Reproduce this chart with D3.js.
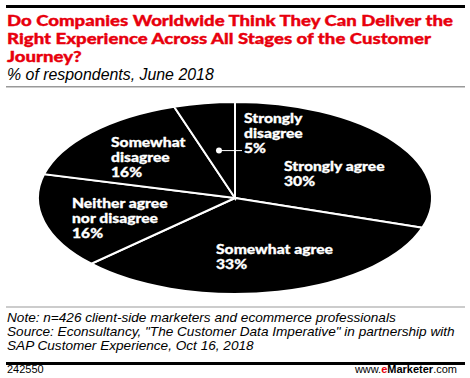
<!DOCTYPE html>
<html>
<head>
<meta charset="utf-8">
<script src="https://cdn.jsdelivr.net/npm/d3@7"></script>
<style>
html,body{margin:0;padding:0;background:#fff;}
svg{display:block;}
</style>
</head>
<body>
<svg id="chart" width="470" height="378"></svg>
<script>
const categories = ["Strongly agree", "Somewhat agree", "Neither agree nor disagree", "Somewhat disagree", "Strongly disagree"];
const values = [30, 33, 16, 16, 5];
const labelLines = [["Strongly agree"], ["Somewhat agree"], ["Neither agree", "nor disagree"], ["Somewhat", "disagree"], ["Strongly", "disagree"]];
const valueLabels = ["30%", "33%", "16%", "16%", "5%"];

const title = ["Do Companies Worldwide Think They Can Deliver the", "Right Experience Across All Stages of the Customer", "Journey?"];
const subtitle = "% of respondents, June 2018";
const notes = ["Note: n=426 client-side marketers and ecommerce professionals",
  "Source: Econsultancy, \"The Customer Data Imperative\" in partnership with",
  "SAP Customer Experience, Oct 16, 2018"];
const chartId = "242550";

// layout (not data)
const labelPos = [[284, 171], [216, 254], [72, 208], [111, 147], [244, 123]];
const cx = 235, cy = 198, rx = 197, ry = 96;

const svg = d3.select("#chart");
const red = "#e8000d";

svg.append("rect").attr("x", 6).attr("y", 5).attr("width", 459).attr("height", 3).attr("fill", "#000");

// title (horizontally widened to match the reference's wide heavy face)
const tg = svg.append("g");
const tt = tg.append("text").attr("font-family", "Lato").attr("font-weight", 900)
  .attr("font-size", 15.2).attr("fill", red).attr("stroke", red).attr("stroke-width", 0.35);
const tsp = title.map((t, i) => tt.append("tspan").attr("x", 0).attr("y", i * 18).text(t));
{
  const len = tsp[0].node().getComputedTextLength();
  tg.attr("transform", `translate(7,26) scale(${446 / len},1)`);
}

svg.append("text").attr("x", 7).attr("y", 80).attr("font-family", "Liberation Sans")
  .attr("font-style", "italic").attr("font-size", 15.9).attr("fill", "#000").text(subtitle);

svg.append("rect").attr("x", 6).attr("y", 86).attr("width", 459).attr("height", 1.5).attr("fill", "#999");

// pie
const pie = d3.pie().sort(null).value(d => d)(values);
const arc = d3.arc().innerRadius(0).outerRadius(rx);
const g = svg.append("g").attr("transform", `translate(${cx},${cy}) scale(1,${ry / rx})`);
g.selectAll("path").data(pie).join("path")
  .attr("d", arc)
  .attr("fill", "#000")
  .attr("stroke", "#fff")
  .attr("stroke-width", 2)
  .attr("vector-effect", "non-scaling-stroke");

// labels
let refLabel = null;
const labelGroups = [];
pie.forEach((d, i) => {
  const lines = labelLines[i].concat([valueLabels[i]]);
  const lg = svg.append("g");
  const t = lg.append("text").attr("font-family", "Lato").attr("font-weight", 900)
    .attr("font-size", 12.6).attr("fill", "#fff").attr("stroke", "#fff").attr("stroke-width", 0.3);
  lines.forEach((l, j) => {
    const s = t.append("tspan").attr("x", 0).attr("y", j * 15).text(l);
    if (i === 1 && j === 0) refLabel = s;
  });
  labelGroups.push([lg, labelPos[i]]);
});
{
  const sx = 117 / refLabel.node().getComputedTextLength();
  labelGroups.forEach(([lg, p]) => lg.attr("transform", `translate(${p[0]},${p[1]}) scale(${sx},1)`));
}

// leader for small slice
const sd = pie[4];
const midA = (sd.startAngle + sd.endAngle) / 2;
const dotX = cx + Math.sin(midA) * rx * 0.52;
const dotY = cy - Math.cos(midA) * ry * 0.5;
svg.append("line").attr("x1", dotX).attr("y1", dotY).attr("x2", 242).attr("y2", dotY)
  .attr("stroke", "#fff").attr("stroke-width", 1);
svg.append("circle").attr("cx", dotX).attr("cy", dotY).attr("r", 3).attr("fill", "#fff");

// footer
svg.append("rect").attr("x", 6).attr("y", 306.5).attr("width", 459).attr("height", 1).attr("fill", "#999");
const nt = svg.append("text").attr("font-family", "Liberation Sans").attr("font-style", "italic")
  .attr("font-size", 13.6).attr("fill", "#000");
notes.forEach((n, i) => nt.append("tspan").attr("x", 7).attr("y", 322 + i * 14).text(n));

svg.append("rect").attr("x", 6).attr("y", 362).attr("width", 459).attr("height", 3).attr("fill", "#000");
svg.append("text").attr("x", 7).attr("y", 373).attr("font-family", "Liberation Sans")
  .attr("font-size", 11).attr("fill", "#000").text(chartId);
const em = svg.append("text").attr("x", 457).attr("y", 373).attr("text-anchor", "end")
  .attr("font-family", "Liberation Sans").attr("font-size", 11).attr("fill", "#000");
em.append("tspan").text("www.");
em.append("tspan").attr("fill", red).attr("font-weight", 700).text("e");
em.append("tspan").attr("font-weight", 700).text("Marketer");
em.append("tspan").text(".com");
</script>
</body>
</html>
